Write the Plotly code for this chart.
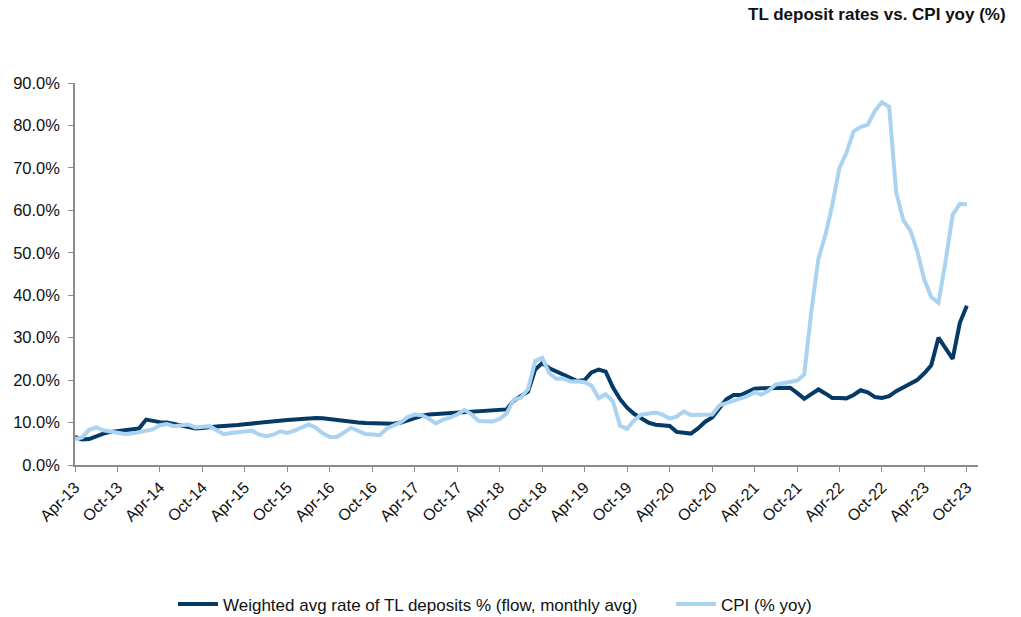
import pandas as pd
import plotly.graph_objects as go

# Monthly observations, April 2013 to October 2023
months = pd.date_range("2013-04-01", "2023-10-01", freq="MS")

# Weighted average rate of TL deposits, % (flow, monthly average)
deposit_rate = [
    6.6, 6.0, 6.1, 6.8, 7.4, 7.8, 8.0, 8.0, 8.2,                       # 2013 Apr-Dec
    8.6, 10.7, 10.4, 10.1, 10.0, 9.6, 9.2, 8.8, 8.6, 8.7, 9.0, 9.1,     # 2014
    9.2, 9.2, 9.4, 9.6, 9.8, 10.0, 10.2, 10.4, 10.5, 10.6, 10.7, 10.9,  # 2015
    11.0, 11.1, 11.0, 10.8, 10.5, 10.2, 10.0, 10.0, 9.9, 9.8, 9.7, 9.6, # 2016
    9.7, 10.0, 10.5, 11.1, 11.6, 11.9, 12.0, 12.0, 12.1, 12.2, 12.3, 12.4,  # 2017
    12.5, 12.6, 12.7, 12.8, 13.1, 15.2, 16.3, 17.3, 22.5, 24.0, 22.8, 22.0,  # 2018
    21.2, 20.3, 19.8, 20.0, 21.8, 22.5, 22.0, 18.3, 15.5, 13.5, 12.0, 11.0,  # 2019
    10.0, 9.5, 9.4, 9.2, 7.8, 7.5, 7.4, 8.6, 10.2, 11.2, 13.5, 15.5,    # 2020
    16.5, 16.5, 17.2, 18.0, 18.1, 18.1, 18.1, 18.2, 18.2, 17.0, 15.6, 16.7,  # 2021
    17.8, 16.8, 15.8, 15.8, 15.7, 16.5, 17.6, 17.1, 16.0, 15.8, 16.2, 17.4,  # 2022
    18.3, 19.3, 20.0, 21.6, 23.5, 30.0, 27.5, 25.0, 33.5, 37.5,         # 2023 Jan-Oct
]

# Consumer price inflation, % year on year
cpi_yoy = [
    6.13, 6.51, 8.30, 8.88, 8.17, 7.88, 7.71, 7.32, 7.40,
    7.75, 7.89, 8.39, 9.38, 9.66, 9.16, 9.32, 9.54, 8.86, 8.96, 9.15, 8.17,
    7.24, 7.55, 7.61, 7.91, 8.09, 7.20, 6.81, 7.14, 7.95, 7.58, 8.10, 8.81,
    9.58, 8.78, 7.46, 6.57, 6.58, 7.64, 8.79, 8.05, 7.28, 7.16, 7.00, 8.53,
    9.22, 10.13, 11.29, 11.87, 11.72, 10.90, 9.79, 10.68, 11.20, 11.90, 12.98, 11.92,
    10.35, 10.26, 10.23, 10.85, 12.15, 15.39, 15.85, 17.90, 24.52, 25.24, 21.62, 20.30,
    20.35, 19.67, 19.71, 19.50, 18.71, 15.72, 16.65, 15.01, 9.26, 8.55, 10.56, 11.84,
    12.15, 12.37, 11.86, 10.94, 11.39, 12.62, 11.76, 11.77, 11.75, 11.89, 14.03, 14.60,
    14.97, 15.61, 16.19, 17.14, 16.59, 17.53, 18.95, 19.25, 19.58, 19.89, 21.31, 36.08,
    48.69, 54.44, 61.14, 69.97, 73.50, 78.62, 79.60, 80.21, 83.45, 85.51, 84.39, 64.27,
    57.68, 55.18, 50.51, 43.68, 39.59, 38.21, 47.83, 58.94, 61.53, 61.36,
]

# Half-yearly tick marks on the date axis
tick_dates = pd.date_range("2013-04-01", "2023-10-01", freq="6MS")
tick_labels = [d.strftime("%b-%y") for d in tick_dates]
y_ticks = [0, 10, 20, 30, 40, 50, 60, 70, 80, 90]

DARK = "#063A66"
LIGHT = "#AAD3F1"
FONT = "Liberation Sans, Arial, sans-serif"
TEXT = "#111111"
AXIS = "#8C8C8C"

fig = go.Figure()
fig.add_trace(go.Scatter(
    x=months, y=deposit_rate, mode="lines",
    name="Weighted avg rate of TL deposits % (flow, monthly avg)",
    line=dict(color=DARK, width=4), legend="legend",
))
fig.add_trace(go.Scatter(
    x=months, y=cpi_yoy, mode="lines",
    name="CPI (% yoy)",
    line=dict(color=LIGHT, width=4), legend="legend2",
))

legend_style = dict(
    orientation="h", xanchor="left", xref="paper",
    y=-0.365, yanchor="middle",
    font=dict(size=17, color=TEXT), itemwidth=40,
    itemclick=False, itemdoubleclick=False,
)

fig.update_layout(
    width=1021, height=617,
    margin=dict(l=75, r=43, t=83, b=152, autoexpand=False),
    paper_bgcolor="white", plot_bgcolor="white",
    font=dict(family=FONT, size=16, color=TEXT),
    showlegend=True,
    legend=dict(x=0.1085, **legend_style),
    legend2=dict(x=0.660, **legend_style),
    annotations=[dict(
        text="<b>TL deposit rates vs. CPI yoy (%)</b>",
        xref="paper", yref="paper", x=1.0, xanchor="right",
        y=1.0, yanchor="top", yshift=80, xshift=30,
        showarrow=False, font=dict(size=17, color=TEXT),
    )],
)

fig.update_xaxes(
    type="date",
    range=["2013-04-01", "2023-11-18"],
    tickvals=tick_dates, ticktext=tick_labels, tickangle=-45,
    ticks="outside", ticklen=5, tickcolor=AXIS, tickwidth=1,
    showline=True, linecolor=AXIS, linewidth=1.5,
    showgrid=False, zeroline=False,
    tickfont=dict(size=16, color=TEXT),
)
fig.update_yaxes(
    range=[0, 90],
    tickvals=y_ticks, ticktext=[f"{v:.1f}%" for v in y_ticks],
    ticks="outside", ticklen=5, tickcolor=AXIS, tickwidth=1,
    showline=True, linecolor=AXIS, linewidth=1.5,
    showgrid=False, zeroline=False, ticklabelstandoff=5,
    tickfont=dict(size=16.5, color=TEXT),
)

fig.write_html("out.html")
